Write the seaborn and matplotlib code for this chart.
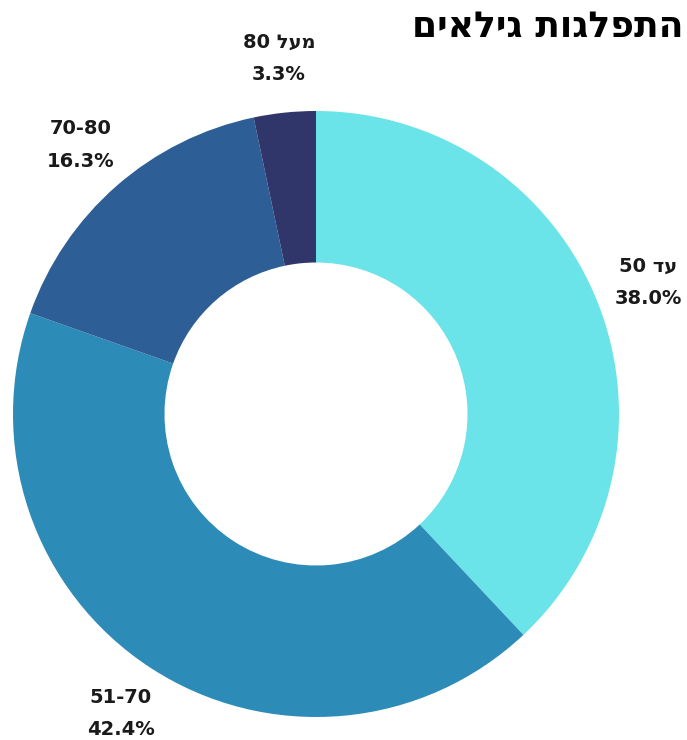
import numpy as np
import matplotlib
matplotlib.use("Agg")
import matplotlib.pyplot as plt
import seaborn as sns

# labels stored in visual (left-to-right) order since matplotlib has no bidi
labels = ["50 דע", "51-70", "70-80", "80 לעמ"]
shares = [38.0, 42.4, 16.3, 3.3]
colors = ["#6ae4e8", "#2d8bb8", "#2d5e95", "#30366a"]
title = "םיאליג תוגלפתה"

sns.set_theme(style="white")
plt.rcParams["font.family"] = ["DejaVu Sans"]

fig = plt.figure(figsize=(6.87, 7.4), dpi=100)
ax = fig.add_axes([13 / 687, 23 / 740, 606 / 687, 606 / 740])

wedges, _ = ax.pie(shares, colors=colors, startangle=90, counterclock=False,
                   radius=1, wedgeprops=dict(width=0.5, linewidth=0))
ax.set_xlim(-1, 1)
ax.set_ylim(-1, 1)
ax.set_aspect("equal")

for w, lab, val in zip(wedges, labels, shares):
    ang = np.deg2rad((w.theta1 + w.theta2) / 2)
    r = 1.18
    ax.text(r * np.cos(ang), r * np.sin(ang), f"{lab}\n{val:.1f}%",
            ha="center", va="center", fontsize=14, fontweight="bold",
            linespacing=1.9, color="#1a1a1a", clip_on=False)

fig.text(684 / 687, 1 - 27 / 740, title, ha="right", va="center",
         fontsize=26, fontweight="bold", color="black")

fig.savefig("out.png", dpi=100)
